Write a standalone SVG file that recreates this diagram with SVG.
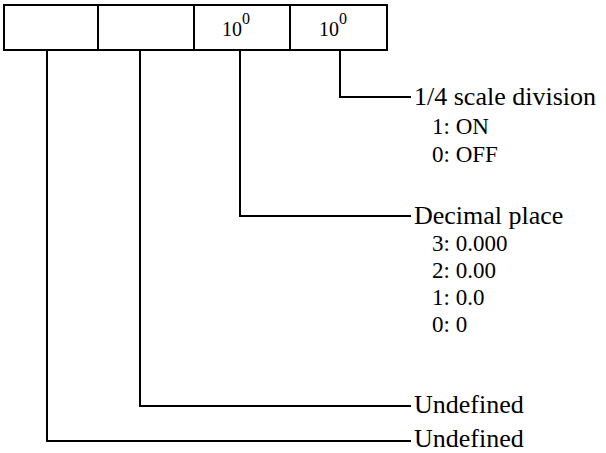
<svg xmlns="http://www.w3.org/2000/svg" width="606" height="453" viewBox="0 0 606 453">
<style>
.ln{fill:none;stroke:#000;stroke-width:2}
.t{font-family:"Liberation Serif","Times New Roman",serif;fill:#000}
.lab{font-size:26px}
.sub{font-size:23px}
.cell{font-size:20px}
.sup{font-size:16px}
</style>
<rect width="606" height="453" fill="#fff"/>
<g id="register">
<rect class="ln" x="4" y="5" width="383" height="45"/>
<line class="ln" x1="98" y1="5" x2="98" y2="50"/>
<line class="ln" x1="194" y1="5" x2="194" y2="50"/>
<line class="ln" x1="290" y1="5" x2="290" y2="50"/>
<text class="t cell" x="222" y="36">10<tspan class="sup" dy="-12">0</tspan></text>
<text class="t cell" x="319" y="36">10<tspan class="sup" dy="-12">0</tspan></text>
</g>
<g id="connectors">
<polyline class="ln" points="340,50 340,97 411,97"/>
<polyline class="ln" points="240,50 240,216 411,216"/>
<polyline class="ln" points="140,50 140,406 411,406"/>
<polyline class="ln" points="47,50 47,441 411,441"/>
</g>
<g id="scale-division">
<text class="t lab" x="414" y="105">1/4 scale division</text>
<text class="t sub" x="432" y="134">1: ON</text>
<text class="t sub" x="432" y="162">0: OFF</text>
</g>
<g id="decimal-place">
<text class="t lab" x="414" y="224">Decimal place</text>
<text class="t sub" x="432" y="251">3: 0.000</text>
<text class="t sub" x="432" y="278">2: 0.00</text>
<text class="t sub" x="432" y="305">1: 0.0</text>
<text class="t sub" x="432" y="332">0: 0</text>
</g>
<g id="undefined-1">
<text class="t lab" x="414" y="413">Undefined</text>
</g>
<g id="undefined-2">
<text class="t lab" x="414" y="447">Undefined</text>
</g>
</svg>
